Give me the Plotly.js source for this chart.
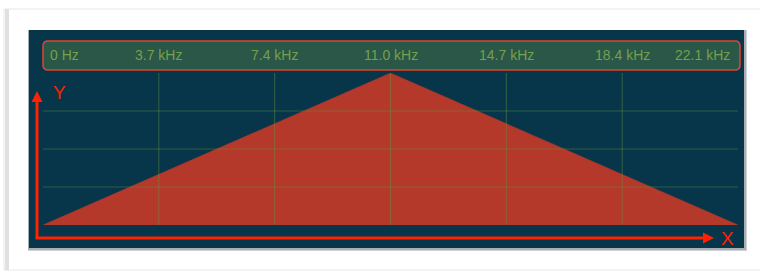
<!DOCTYPE html>
<html>
<head>
<meta charset="utf-8">
<script src="https://cdn.plot.ly/plotly-3.0.1.min.js"></script>
<style>html,body{margin:0;padding:0;background:#fff;}#chart{width:760px;height:271px;}</style>
</head>
<body>
<div id="chart"></div>
<script>
// ---- data ----
var freqKHz = [0, 11.05, 22.1];
var magnitude = [0, 4, 0];
var gridFreqs = [3.683, 7.367, 11.05, 14.733, 18.417];
var gridLevels = [1, 2, 3];
var tickFreqs = [0, 3.683, 7.367, 11.05, 14.733, 18.417, 22.1];
var tickLabels = ['0 Hz', '3.7 kHz', '7.4 kHz', '11.0 kHz', '14.7 kHz', '18.4 kHz', '22.1 kHz'];

// ---- layout geometry (pixels) ----
var W = 760, H = 271;
var L = 43, R = 738, T = 73, B = 225;
function px(x) { return (x - L) / (R - L); }
function py(y) { return (B - y) / (B - T); }
function rectPx(x0, y0, x1, y1, fill, line, lw, layer) {
  return {type: 'rect', xref: 'paper', yref: 'paper', x0: px(x0), x1: px(x1), y0: py(y1), y1: py(y0),
    fillcolor: fill, line: {color: line || 'rgba(0,0,0,0)', width: lw || 0}, layer: layer || 'below'};
}
function linePx(x0, y0, x1, y1, color, lw) {
  return {type: 'line', xref: 'paper', yref: 'paper', x0: px(x0), x1: px(x1), y0: py(y0), y1: py(y1),
    line: {color: color, width: lw}, layer: 'above'};
}
function pathPx(pts, color) {
  var d = pts.map(function (p, i) { return (i ? 'L' : 'M') + px(p[0]) + ',' + py(p[1]); }).join(' ') + ' Z';
  return {type: 'path', xref: 'paper', yref: 'paper', path: d, fillcolor: color, line: {width: 0}, layer: 'above'};
}
function roundRectPx(x0, y0, x1, y1, r, fill, line, lw) {
  function P(x, y) { return px(x) + ',' + py(y); }
  var d = 'M' + P(x0 + r, y0) + ' L' + P(x1 - r, y0) + ' Q' + P(x1, y0) + ' ' + P(x1, y0 + r) +
    ' L' + P(x1, y1 - r) + ' Q' + P(x1, y1) + ' ' + P(x1 - r, y1) +
    ' L' + P(x0 + r, y1) + ' Q' + P(x0, y1) + ' ' + P(x0, y1 - r) +
    ' L' + P(x0, y0 + r) + ' Q' + P(x0, y0) + ' ' + P(x0 + r, y0) + ' Z';
  return {type: 'path', xref: 'paper', yref: 'paper', path: d, fillcolor: fill,
    line: {color: line, width: lw}, layer: 'below'};
}

var shapes = [];
// outer card
shapes.push(rectPx(4, 9, 780, 270, '#ffffff', '#e8e8e8', 1));
shapes.push(rectPx(5, 9, 9, 270, '#e0e0e0', null, 0));
// panel shadow + panel
shapes.push(rectPx(28, 30, 747, 251, '#d0d3d6', null, 0));
shapes.push(rectPx(28, 30, 746, 250, '#a9aeb3', null, 0));
shapes.push(rectPx(29, 30, 744, 248, '#07354a', null, 0));
// label bar
shapes.push(roundRectPx(43, 41, 740, 70, 5, '#2a5747', '#e0452c', 1.5));

// grid lines (drawn above the fill)
gridFreqs.forEach(function (f) {
  shapes.push({type: 'line', xref: 'x', yref: 'y', x0: f, x1: f, y0: 0, y1: 4,
    line: {color: 'rgba(100,145,60,0.5)', width: 1}, layer: 'above'});
});
gridLevels.forEach(function (g) {
  shapes.push({type: 'line', xref: 'paper', yref: 'y', x0: 0, x1: 1, y0: g, y1: g,
    line: {color: 'rgba(100,145,60,0.45)', width: 1}, layer: 'above'});
});

// axis arrows
var red = '#ff2200';
shapes.push(linePx(37, 101, 37, 238, red, 3));
shapes.push(linePx(35.5, 238, 704, 238, red, 3));
shapes.push(pathPx([[37, 91], [31.5, 102], [42.5, 102]], red));
shapes.push(pathPx([[714, 238], [703, 232.5], [703, 243.5]], red));

var annotations = tickFreqs.map(function (f, i) {
  var anchor = 'center', shift = 0;
  if (i === 0) { anchor = 'left'; shift = 5; }
  if (i === tickFreqs.length - 1) { anchor = 'right'; shift = -6; }
  return {x: f, y: py(55), xref: 'x', yref: 'paper', text: tickLabels[i], showarrow: false,
    xanchor: anchor, yanchor: 'middle', xshift: shift,
    font: {family: 'Liberation Sans, Arial, sans-serif', size: 14, color: '#76a04c'}};
});
annotations.push({x: px(59), y: py(92), xref: 'paper', yref: 'paper', text: 'Y', showarrow: false,
  xanchor: 'center', yanchor: 'middle', font: {family: 'Liberation Sans, Arial, sans-serif', size: 19, color: red}});
annotations.push({x: px(727), y: py(238), xref: 'paper', yref: 'paper', text: 'X', showarrow: false,
  xanchor: 'center', yanchor: 'middle', font: {family: 'Liberation Sans, Arial, sans-serif', size: 19, color: red}});

var trace = {
  x: freqKHz, y: magnitude, type: 'scatter', mode: 'lines', fill: 'tozeroy',
  fillcolor: '#b5392b', line: {color: '#b5392b', width: 0.5}, hoverinfo: 'skip'
};

var layout = {
  width: W, height: H,
  margin: {l: L, r: W - R, t: T, b: H - B, pad: 0},
  paper_bgcolor: '#ffffff', plot_bgcolor: 'rgba(0,0,0,0)',
  showlegend: false,
  xaxis: {range: [0, 22.1], showgrid: false, zeroline: false, showticklabels: false, ticks: '', fixedrange: true},
  yaxis: {range: [0, 4], showgrid: false, zeroline: false, showticklabels: false, ticks: '', fixedrange: true},
  shapes: shapes,
  annotations: annotations
};

Plotly.newPlot('chart', [trace], layout, {displayModeBar: false, staticPlot: true});
</script>
</body>
</html>
